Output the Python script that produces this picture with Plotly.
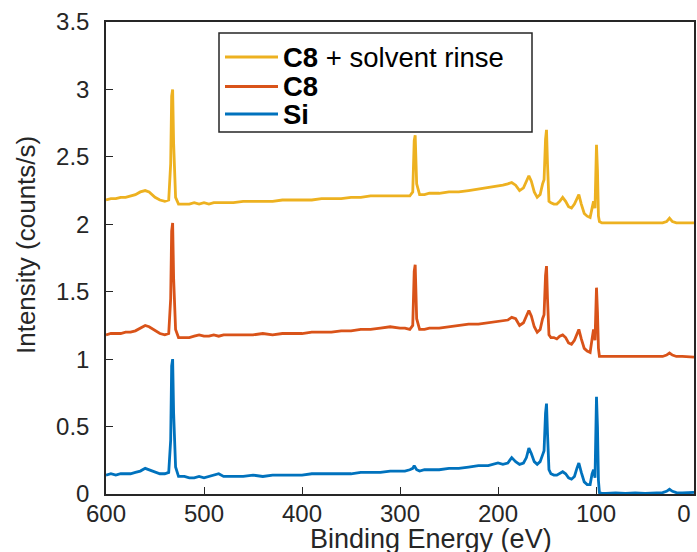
import plotly.graph_objects as go

# Binding energy grid (eV)
binding_energy = [
    600, 595, 590, 585, 580, 575, 570, 565, 560, 556, 550, 545, 540, 536, 534, 533, 532, 531, 529, 526,
    520, 515, 510, 505, 500, 495, 490, 485, 480, 470, 460, 450, 440, 430, 420, 410, 400, 390, 380, 370,
    360, 350, 340, 330, 320, 310, 300, 295, 290, 287, 285.5, 284.5, 283, 280, 275, 270, 260, 250, 240, 230,
    220, 210, 200, 195, 190, 186, 182, 178, 174, 171, 168.5, 166, 163, 160, 157, 154.5, 153, 151.5, 150.5, 149.5,
    148, 146, 143, 140, 137, 134, 131, 128, 125, 122, 119.5, 117.5, 115, 112, 109, 106, 104, 102.5, 101, 100,
    99.5, 98.5, 97.5, 96.5, 94, 90, 80, 70, 60, 50, 40, 32, 28, 25, 22, 18, 12, 6, 0,
]

si_counts = [
    0.14, 0.15, 0.14, 0.15, 0.15, 0.15, 0.16, 0.17, 0.19, 0.18, 0.16, 0.15, 0.15, 0.16, 0.40, 0.95, 1.00, 0.60, 0.20, 0.13,
    0.13, 0.12, 0.12, 0.13, 0.12, 0.13, 0.14, 0.15, 0.13, 0.13, 0.13, 0.14, 0.13, 0.14, 0.14, 0.14, 0.14, 0.15, 0.15, 0.15,
    0.15, 0.15, 0.16, 0.16, 0.16, 0.17, 0.17, 0.17, 0.18, 0.19, 0.21, 0.20, 0.18, 0.17, 0.18, 0.18, 0.18, 0.19, 0.19, 0.20,
    0.21, 0.21, 0.23, 0.22, 0.23, 0.27, 0.24, 0.22, 0.23, 0.27, 0.34, 0.30, 0.24, 0.22, 0.24, 0.29, 0.32, 0.60, 0.67, 0.45,
    0.18, 0.15, 0.14, 0.14, 0.15, 0.165, 0.15, 0.12, 0.11, 0.13, 0.19, 0.23, 0.16, 0.09, 0.07, 0.07, 0.15, 0.18, 0.12, 0.55,
    0.72, 0.50, 0.10, 0.01, 0.005, 0.005, 0.008, 0.005, 0.008, 0.005, 0.008, 0.01, 0.02, 0.035, 0.02, 0.01, 0.008, 0.01, 0.012,
]

c8_counts = [
    1.18, 1.19, 1.19, 1.19, 1.20, 1.20, 1.21, 1.23, 1.25, 1.24, 1.21, 1.19, 1.18, 1.19, 1.45, 1.95, 2.01, 1.60, 1.22, 1.16,
    1.16, 1.16, 1.17, 1.18, 1.17, 1.17, 1.18, 1.17, 1.18, 1.18, 1.18, 1.18, 1.19, 1.18, 1.19, 1.19, 1.19, 1.20, 1.20, 1.20,
    1.21, 1.21, 1.22, 1.22, 1.23, 1.24, 1.23, 1.23, 1.22, 1.25, 1.65, 1.70, 1.30, 1.22, 1.22, 1.23, 1.23, 1.24, 1.25, 1.26,
    1.26, 1.27, 1.28, 1.29, 1.29, 1.31, 1.30, 1.25, 1.27, 1.32, 1.36, 1.32, 1.24, 1.20, 1.22, 1.30, 1.33, 1.62, 1.69, 1.45,
    1.18, 1.16, 1.16, 1.15, 1.17, 1.18, 1.16, 1.12, 1.11, 1.14, 1.19, 1.22, 1.15, 1.08, 1.06, 1.05, 1.15, 1.22, 1.14, 1.40,
    1.53, 1.35, 1.08, 1.02, 1.02, 1.02, 1.02, 1.02, 1.02, 1.02, 1.02, 1.02, 1.03, 1.045, 1.03, 1.02, 1.02, 1.02, 1.015,
]

c8_rinse_counts = [
    2.18, 2.19, 2.19, 2.20, 2.20, 2.21, 2.22, 2.24, 2.25, 2.24, 2.20, 2.18, 2.17, 2.18, 2.45, 2.95, 3.00, 2.60, 2.20, 2.15,
    2.15, 2.15, 2.16, 2.15, 2.16, 2.15, 2.16, 2.16, 2.16, 2.16, 2.17, 2.17, 2.17, 2.17, 2.18, 2.18, 2.18, 2.18, 2.19, 2.19,
    2.19, 2.20, 2.20, 2.21, 2.21, 2.21, 2.21, 2.21, 2.21, 2.24, 2.62, 2.66, 2.30, 2.22, 2.22, 2.23, 2.23, 2.24, 2.24, 2.25,
    2.26, 2.27, 2.28, 2.29, 2.30, 2.31, 2.29, 2.25, 2.27, 2.32, 2.36, 2.32, 2.24, 2.20, 2.22, 2.30, 2.33, 2.63, 2.70, 2.45,
    2.17, 2.16, 2.15, 2.15, 2.17, 2.20, 2.17, 2.13, 2.12, 2.15, 2.19, 2.22, 2.15, 2.08, 2.06, 2.05, 2.12, 2.17, 2.12, 2.45,
    2.59, 2.40, 2.06, 2.02, 2.01, 2.01, 2.01, 2.01, 2.01, 2.01, 2.01, 2.01, 2.02, 2.045, 2.02, 2.01, 2.01, 2.01, 2.01,
]

series_names = ["<b>Si</b>", "<b>C8</b>", "<b>C8</b> + solvent rinse"]
series_colors = ["#0072BD", "#D95319", "#EDB120"]
x_ticks = [0, 100, 200, 300, 400, 500, 600]
x_tick_labels = ["0\u00a0\u00a0\u00a0", "100", "200", "300", "400", "500", "600"]
y_ticks = [0, 0.5, 1, 1.5, 2, 2.5, 3, 3.5]
y_tick_labels = ["0", "0.5", "1", "1.5", "2", "2.5", "3", "3.5"]

FONT = "Liberation Sans, Arial, sans-serif"
INK = "#262626"

fig = go.Figure()
for name, ys, col in zip(series_names, [si_counts, c8_counts, c8_rinse_counts], series_colors):
    fig.add_trace(go.Scatter(x=binding_energy, y=ys, mode="lines", name=name,
                             line=dict(color=col, width=2.8), showlegend=False))

axis_common = dict(showgrid=False, zeroline=False, showline=True, linecolor=INK, linewidth=1.5,
                   mirror=True, ticks="inside", ticklen=7, tickwidth=1.3, tickcolor=INK,
                   automargin=False, ticklabeloverflow="allow",
                   tickfont=dict(family=FONT, size=24, color=INK))

fig.update_xaxes(range=[600, 0], tickvals=x_ticks, ticktext=x_tick_labels, ticklabelstandoff=-3, **axis_common)
fig.update_yaxes(range=[0, 3.5], tickvals=y_ticks, ticktext=y_tick_labels, ticklabelstandoff=10, **axis_common)

# Legend drawn as a boxed key in paper coordinates (pixel layout of reference)
PLOT_L, PLOT_T, PLOT_W, PLOT_H = 106, 22, 588, 472
def px(xp):
    return (xp - PLOT_L) / PLOT_W
def py(yp):
    return (PLOT_T + PLOT_H - yp) / PLOT_H

shapes = [dict(type="rect", xref="paper", yref="paper", x0=px(219), x1=px(532), y0=py(132), y1=py(33),
               line=dict(color=INK, width=1.5), fillcolor="white", layer="above")]
annotations = []
legend_rows = [(57, 2), (86.5, 1), (114, 0)]
for ypix, idx in legend_rows:
    shapes.append(dict(type="line", xref="paper", yref="paper", x0=px(225), x1=px(278), y0=py(ypix), y1=py(ypix),
                       line=dict(color=series_colors[idx], width=2.8), layer="above"))
    annotations.append(dict(text=series_names[idx], xref="paper", yref="paper", x=px(281), y=py(ypix),
                            xanchor="left", yanchor="middle", showarrow=False,
                            font=dict(family=FONT, size=27.5, color="black")))

annotations += [
    dict(text="Binding Energy (eV)", xref="paper", yref="paper", x=px(431), y=py(522),
         xanchor="center", yanchor="top", showarrow=False,
         font=dict(family=FONT, size=27, color=INK)),
    dict(text="Intensity (counts/s)", xref="paper", yref="paper", x=px(26), y=py(245),
         xanchor="center", yanchor="middle", textangle=-90, showarrow=False,
         font=dict(family=FONT, size=26, color=INK)),
]

fig.update_layout(
    width=697, height=552,
    margin=dict(l=106, r=3, t=22, b=58, autoexpand=False),
    paper_bgcolor="white", plot_bgcolor="white",
    font=dict(family=FONT, color=INK),
    showlegend=False,
    shapes=shapes,
    annotations=annotations,
)

fig.write_html("out.html", config={"displayModeBar": False},
               post_script="document.body.style.margin='0';document.body.style.overflow='hidden';")
